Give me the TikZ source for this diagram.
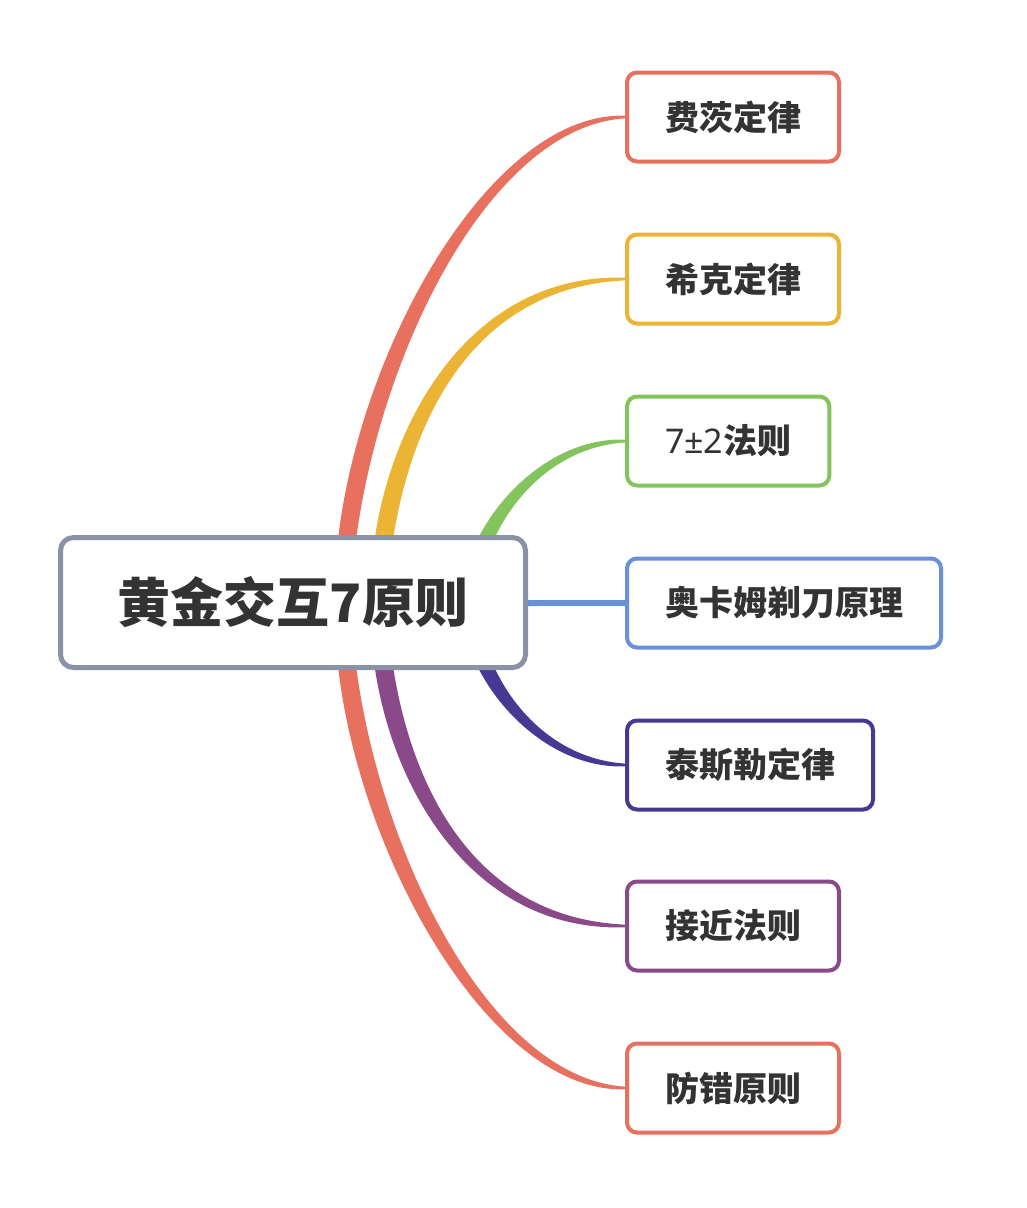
\documentclass[tikz,border=0pt]{standalone}
\usepackage{fontspec}
\newfontfamily\cjk{Noto Sans CJK SC}
\newfontfamily\cjkblack{Noto Sans CJK SC Black}
\newfontfamily\lat{Noto Sans}
\usetikzlibrary{backgrounds}
\definecolor{cred}{HTML}{E8705F}
\definecolor{cyel}{HTML}{EBB434}
\definecolor{cgrn}{HTML}{84C45D}
\definecolor{cblu}{HTML}{6A90D9}
\definecolor{cdpu}{HTML}{473894}
\definecolor{cpur}{HTML}{8A4A8A}
\definecolor{rootgray}{HTML}{8A93A6}
\definecolor{txt}{HTML}{333333}
% #1 colour, #2 start coordinate, #3 end node, #4 C1 vertical offset (up positive),
% #5 C2 horizontal offset from end, #6 half width at start, #7 half width at C1,
% #8 signed half width at C2, #9 signed half width at end
\newcommand\taperbranch[9]{%
  \fill[#1] ([xshift=-#6]#2) .. controls ([xshift=-#7,yshift=#4]#2) and ([xshift=-#5,yshift=#8]#3.west) ..
    ([yshift=#9]#3.west) -- ([yshift={-(#9)}]#3.west)
    .. controls ([xshift=-#5,yshift={-(#8)}]#3.west) and ([xshift=#7,yshift=#4]#2) ..
    ([xshift=#6]#2) -- cycle;}
\tikzset{
  rootbox/.style={draw=rootgray, line width=5pt, fill=white, rounded corners=13pt,
    minimum width=465pt, minimum height=130pt, outer sep=0pt,
    font=\cjkblack\fontsize{53pt}{60pt}\selectfont, text=txt},
  leafbox/.style={draw=#1, line width=4pt, fill=white, rounded corners=10pt,
    minimum height=89pt, inner xsep=38pt, anchor=west, outer sep=0pt,
    font=\cjk\bfseries\fontsize{34pt}{40pt}\selectfont, text=txt},
}
\begin{document}
\begin{tikzpicture}[x=1pt,y=-1pt]
\useasboundingbox (0,0) rectangle (1026,1208);

\node[rootbox] (root) at (293,602.5) {黄金交互7原则};

\node[leafbox=cred] (n1) at (627,117) {费茨定律};
\node[leafbox=cyel] (n2) at (627,279) {希克定律};
\node[leafbox=cgrn] (n3) at (627,441) {{\lat\mdseries 7±2}法则};
\node[leafbox=cblu] (n4) at (627,603) {奥卡姆剃刀原理};
\node[leafbox=cdpu] (n5) at (627,765) {泰斯勒定律};
\node[leafbox=cpur] (n6) at (627,926) {接近法则};
\node[leafbox=cred] (n7) at (627,1088) {防错原则};

\coordinate (s1) at (343,603);
\coordinate (s2) at (379,603);
\coordinate (s3) at (470,603);
\coordinate (s4) at (300,603);

\begin{scope}[on background layer]
  \fill[white] (0,0) rectangle (1026,1208);
  \taperbranch{cred}{s1}{n1}{200pt}{150pt}{8pt}{13pt}{8pt}{1.3pt}
  \taperbranch{cyel}{s2}{n2}{133pt}{180pt}{8pt}{13pt}{8pt}{1.3pt}
  \taperbranch{cgrn}{s3}{n3}{70pt}{90pt}{8pt}{11pt}{6pt}{1.3pt}
  \fill[cblu] ([yshift=3.5pt]s4) -- ([yshift=2.8pt]n4.west) -- ([yshift=-2.8pt]n4.west) -- ([yshift=-3.5pt]s4) -- cycle;
  \taperbranch{cdpu}{s3}{n5}{-70pt}{90pt}{8pt}{11pt}{-6pt}{-1.3pt}
  \taperbranch{cpur}{s2}{n6}{-133pt}{180pt}{8pt}{13pt}{-8pt}{-1.3pt}
  \taperbranch{cred}{s1}{n7}{-200pt}{150pt}{8pt}{13pt}{-8pt}{-1.3pt}
\end{scope}
\end{tikzpicture}
\end{document}
